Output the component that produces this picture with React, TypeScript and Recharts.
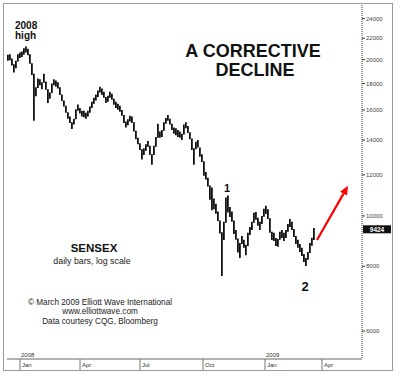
import { ComposedChart, Bar, XAxis, YAxis, ReferenceLine } from "recharts"

// SENSEX daily bars (sampled every 2 trading days), Dec 2007 - Mar 2009
const highs = [
  20450, 20500, 20100, 19600, 19900, 20500, 20650, 20750, 21050, 21200,
  21000, 20500, 19700, 18800, 17700, 18400, 18350, 18100, 18800, 18150,
  17550, 17300, 18000, 18350, 18250, 18100, 17700, 17150, 16700, 16300,
  15850, 15550, 15150, 15400, 16050, 16400, 16150, 15950, 15950, 15800,
  15950, 16250, 16600, 16900, 17150, 17450, 17750, 17600, 17350, 16950,
  17050, 17350, 17200, 16820, 16600, 16450, 16300, 16000, 15650, 15200,
  15350, 15600, 15550, 15150, 14600, 14150, 13800, 13450, 13500, 13750,
  13950, 13650, 13150, 13650, 14200, 15050, 14550, 14650, 15150, 15450,
  15650, 15400, 15050, 14800, 14750, 14650, 14550, 14400, 15000, 15150,
  14900, 14500, 14100, 13500, 13900, 14000, 13550, 13150, 12750, 12150,
  11850, 11450, 11350, 10800, 10550, 10200, 9800, 9300, 9750, 10850,
  10950, 10400, 10200, 9800, 9400, 9050, 8870, 9150, 9000, 8800,
  9280, 9520, 9740, 10140, 10180, 9920, 9750, 10000, 10320, 10460,
  10300, 9900, 9320, 9280, 9070, 9030, 9320, 9400, 9280, 9400,
  9650, 9870, 9750, 9440, 9150, 9000, 8830, 8680, 8450, 8300,
  8520, 8870, 9080, 9480,
]
const lows = [
  19900, 19950, 19500, 18900, 19250, 19850, 20150, 20250, 20450, 20650,
  20400, 19650, 18700, 15250, 17000, 17650, 17850, 17550, 18050, 17500,
  16500, 16820, 17250, 17850, 17750, 17600, 17100, 16650, 16250, 15800,
  15400, 15100, 14700, 15000, 15350, 15950, 15750, 15550, 15500, 15400,
  15550, 15800, 16150, 16450, 16700, 16950, 17300, 17100, 16900, 16500,
  16600, 16900, 16750, 16380, 16150, 16020, 15880, 15600, 15100, 14800,
  14950, 15200, 15100, 14550, 14050, 13750, 13400, 12850, 13100, 13350,
  13600, 13100, 12550, 13100, 13600, 14150, 14150, 14200, 14600, 15050,
  15250, 15000, 14650, 14400, 14300, 14200, 14150, 14000, 14350, 14750,
  14450, 14050, 13400, 12550, 13450, 13550, 13000, 12700, 11950, 11750,
  11400, 10750, 10250, 10300, 10100, 9780, 9250, 7660, 8990, 9700,
  10150, 9950, 9750, 9230, 9000, 8500, 8300, 8830, 8680, 8400,
  8750, 9190, 9400, 9700, 9830, 9570, 9400, 9650, 9960, 10090,
  9870, 9280, 8990, 8950, 8750, 8720, 9000, 9070, 8950, 9070,
  9320, 9520, 9400, 9110, 8830, 8680, 8520, 8370, 8150, 8010,
  8230, 8480, 8760, 8990,
]
const firstDay = -12 // trading-day index of the first bar (Jan 2008 = 0)
const lastClose = 9424

const priceTicks = [6000, 8000, 10000, 12000, 14000, 16000, 18000, 20000, 22000, 24000]
const monthTicks = [0, 60, 120, 183, 245, 302]
const monthLabels = ["Jan", "Apr", "Jul", "Oct", "Jan", "Apr"]
const yearLabels = ["2008", "", "", "", "2009", ""]

const arrowFrom = { day: 297, price: 8990 }
const arrowTo = { day: 328, price: 11430 }

const font = "'Liberation Sans', Arial, sans-serif"

const data = highs.map((h, i) => ({ day: firstDay + i * 2, range: [lows[i], h] }))

function DateTick(props: any) {
  const { x, y, payload } = props
  const i = monthTicks.indexOf(payload.value)
  return (
    <g>
      <line x1={x} y1={y} x2={x} y2={y + 11} stroke="#777" />
      <text x={x + 2} y={y + 8} fontSize={6} fill="#333" fontFamily={font}>
        {monthLabels[i]}
      </text>
      {yearLabels[i] && (
        <text x={x + 1} y={y - 2} fontSize={6} fill="#333" fontFamily={font}>
          {yearLabels[i]}
        </text>
      )}
    </g>
  )
}

function ArrowShape(props: any) {
  const { x1, y1, x2, y2 } = props
  const dx = x2 - x1
  const dy = y2 - y1
  const len = Math.hypot(dx, dy) || 1
  const ux = dx / len
  const uy = dy / len
  const head = 9
  const half = 4
  const bx = x2 - ux * head
  const by = y2 - uy * head
  return (
    <g>
      <line x1={x1} y1={y1} x2={bx} y2={by} stroke="#f00" strokeWidth={2.2} />
      <polygon
        points={`${x2},${y2} ${bx - uy * half},${by + ux * half} ${bx + uy * half},${by - ux * half}`}
        fill="#f00"
      />
    </g>
  )
}

function LastLabel(props: any) {
  const vb = props.viewBox
  const x = vb.x + vb.width + 1
  return (
    <g>
      <rect x={x} y={vb.y - 4} width={28} height={8} fill="#111" />
      <text x={x + 14} y={vb.y + 2.5} textAnchor="middle" fontSize={6.5} fontWeight="bold" fill="#fff" fontFamily={font}>
        {lastClose}
      </text>
    </g>
  )
}

export default function App() {
  return (
    <div style={{ position: "absolute", left: 0, top: 0, width: 400, height: 378, background: "#fff" }}>
      <div
        style={{
          position: "absolute",
          left: 3,
          top: 3,
          width: 388,
          height: 366,
          border: "1px solid #999",
        }}
      />
      <div style={{ position: "absolute", left: 0, top: 0 }}>
        <ComposedChart width={400} height={378} data={data} margin={{ top: 5, right: 8, bottom: 8, left: 7 }}>
          <XAxis
            dataKey="day"
            type="number"
            domain={[-13, 342]}
            ticks={monthTicks}
            interval={0}
            height={11}
            tickSize={0}
            tickMargin={0}
            tick={DateTick}
            axisLine={{ stroke: "#666" }}
            allowDataOverflow
          />
          <YAxis
            yAxisId="price"
            orientation="right"
            type="number"
            scale="log"
            domain={[5300, 25500]}
            ticks={priceTicks}
            interval={0}
            width={30}
            tickSize={3}
            tickMargin={1}
            tick={{ fontSize: 6, fill: "#444", fontFamily: font }}
            axisLine={{ stroke: "#333", strokeDasharray: "1 1" }}
            tickLine={{ stroke: "#333" }}
            allowDataOverflow
          />
          <YAxis
            yAxisId="edge"
            orientation="left"
            mirror
            width={0}
            type="number"
            scale="log"
            domain={[5300, 25500]}
            ticks={priceTicks}
            interval={0}
            tick={false}
            tickSize={2}
            axisLine={{ stroke: "#666" }}
            tickLine={{ stroke: "#666" }}
            allowDataOverflow
          />
          <Bar yAxisId="price" dataKey="range" barSize={2} fill="#111" isAnimationActive={false} />
          <ReferenceLine yAxisId="price" y={lastClose} stroke="none" label={LastLabel} />
          <ReferenceLine
            yAxisId="price"
            segment={[
              { x: arrowFrom.day, y: arrowFrom.price },
              { x: arrowTo.day, y: arrowTo.price },
            ]}
            shape={ArrowShape}
          />
        </ComposedChart>
      </div>
      <svg
        width={400}
        height={378}
        style={{ position: "absolute", left: 0, top: 0, pointerEvents: "none" }}
        fontFamily={font}
      >
        <text x={15} y={29} fontSize={10} fontWeight="bold" fill="#111">2008</text>
        <text x={15} y={39} fontSize={10} fontWeight="bold" fill="#111">high</text>
        <text x={253} y={57} fontSize={18} fontWeight="bold" textAnchor="middle" fill="#111">A CORRECTIVE</text>
        <text x={255} y={76} fontSize={18} fontWeight="bold" textAnchor="middle" fill="#111">DECLINE</text>
        <text x={227} y={192} fontSize={11} fontWeight="bold" textAnchor="middle" fill="#111">1</text>
        <text x={305} y={291} fontSize={13} fontWeight="bold" textAnchor="middle" fill="#111">2</text>
        <text x={94} y={252} fontSize={11.5} fontWeight="bold" textAnchor="middle" fill="#111">SENSEX</text>
        <text x={92} y={264} fontSize={8.8} textAnchor="middle" fill="#222">daily bars, log scale</text>
        <text x={100} y={305} fontSize={8.2} textAnchor="middle" fill="#222">© March 2009 Elliott Wave International</text>
        <text x={100} y={314} fontSize={8.2} textAnchor="middle" fill="#222">www.elliottwave.com</text>
        <text x={100} y={324} fontSize={8.2} textAnchor="middle" fill="#222">Data courtesy CQG, Bloomberg</text>
      </svg>
    </div>
  )
}
